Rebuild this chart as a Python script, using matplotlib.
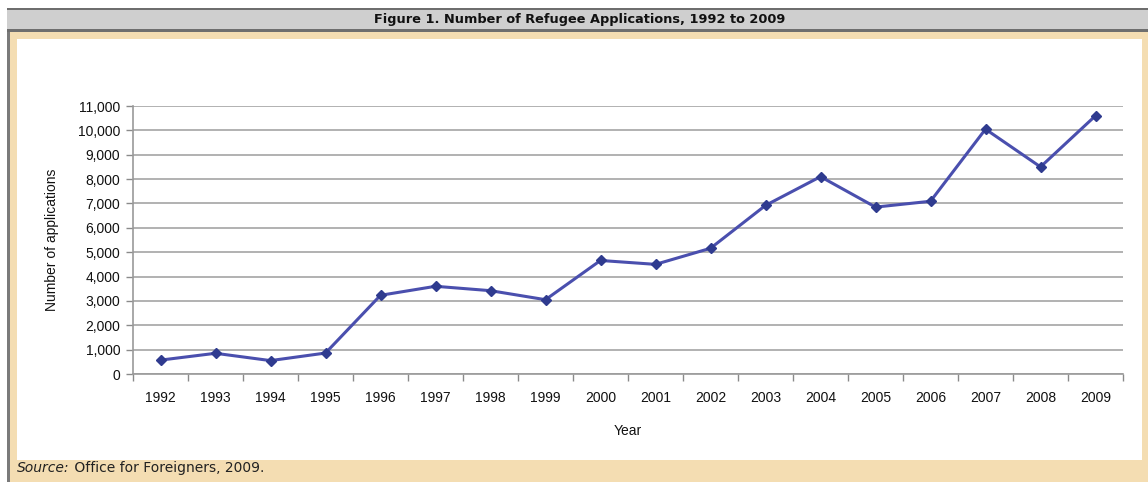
import matplotlib
matplotlib.use("Agg")
import matplotlib.pyplot as plt
from matplotlib.patches import Rectangle
from matplotlib.ticker import FuncFormatter, MultipleLocator, FixedLocator

years = ["1992", "1993", "1994", "1995", "1996", "1997", "1998", "1999", "2000",
         "2001", "2002", "2003", "2004", "2005", "2006", "2007", "2008", "2009"]
applications = [570, 850, 550, 860, 3230, 3600, 3420, 3050, 4660,
                4500, 5160, 6920, 8100, 6850, 7090, 10050, 8500, 10600]
title_text = "Figure 1. Number of Refugee Applications, 1992 to 2009"
source_label = "Source:"
source_rest = " Office for Foreigners, 2009."
y_label = "Number of applications"
x_label = "Year"

W, H = 1148, 482
fig = plt.figure(figsize=(W / 100, H / 100), dpi=100)
fig.patch.set_facecolor("white")

def fx(px):
    return px / W

def fy(py):
    return 1 - py / H

def rect(x0, y0, x1, y1, color, z=0):
    fig.add_artist(Rectangle((fx(x0), fy(y1)), fx(x1) - fx(x0), fy(y0) - fy(y1),
                             transform=fig.transFigure, facecolor=color,
                             edgecolor="none", zorder=z))

# outer frame
rect(7, 8, W, H, "#f4ddb2", 0)          # tan background
rect(7, 8, 10, H, "#7a7a7a", 1)         # left gray border
rect(7, 8, W, 31, "#cfcfcf", 1)         # title bar
rect(7, 8, W, 10, "#6e6e6e", 2)         # top border line
rect(7, 29, W, 32, "#6e6e6e", 2)        # line under title bar
rect(17, 39, 1142, 460, "#ffffff", 1)   # white panel

fig.text(fx(580), fy(19.5), title_text, ha="center", va="center",
         fontsize=9.3, fontweight="bold", family="DejaVu Sans", color="#111111")
t = fig.text(fx(17), fy(472), source_label, ha="left", va="baseline",
             fontsize=10, style="italic", family="DejaVu Sans", color="#222222")
fig.canvas.draw()
bb = t.get_window_extent()
fig.text(bb.x1 / W, fy(472), source_rest, ha="left", va="baseline",
         fontsize=10, family="DejaVu Sans", color="#222222")

# plot axes
ax = fig.add_axes([fx(133), fy(374), fx(1123) - fx(133), fy(106) - fy(374)])
ax.set_facecolor("none")
ax.set_zorder(5)
x = list(range(len(years)))
ax.plot(x, applications, color="#4a4fae", lw=2.2, marker="D", markersize=5,
        markerfacecolor="#2f3b8f", markeredgecolor="#2f3b8f", zorder=3)

ax.set_xlim(-0.5, len(years) - 0.5)
ax.set_ylim(0, 11000)
ax.yaxis.set_major_locator(MultipleLocator(1000))
ax.yaxis.set_major_formatter(FuncFormatter(lambda v, p: f"{int(v):,}"))
ax.set_xticks(x)
ax.set_xticklabels(years)
ax.xaxis.set_minor_locator(FixedLocator([i - 0.5 for i in range(len(years) + 1)]))
ax.tick_params(axis="x", which="major", length=0, pad=12, labelsize=10, colors="#111111")
ax.tick_params(axis="x", which="minor", length=5, width=1, color="#8a8a8a")
ax.tick_params(axis="y", which="major", length=5, width=1, color="#8a8a8a",
               labelsize=10, labelcolor="#111111", pad=4)
for lab in ax.get_xticklabels() + ax.get_yticklabels():
    lab.set_family("Liberation Sans")

ax.grid(axis="y", color="#ababab", lw=1.3)
ax.set_axisbelow(True)
for s in ["top", "right"]:
    ax.spines[s].set_visible(False)
for s in ["left", "bottom"]:
    ax.spines[s].set_color("#9a9a9a")
    ax.spines[s].set_linewidth(1.2)

ax.set_xlabel(x_label, fontsize=10, family="Liberation Sans", labelpad=14, color="#111111")
ax.set_ylabel(y_label, fontsize=10, family="Liberation Sans", labelpad=14, color="#111111")

fig.savefig("out.png", dpi=100, facecolor=fig.get_facecolor())
